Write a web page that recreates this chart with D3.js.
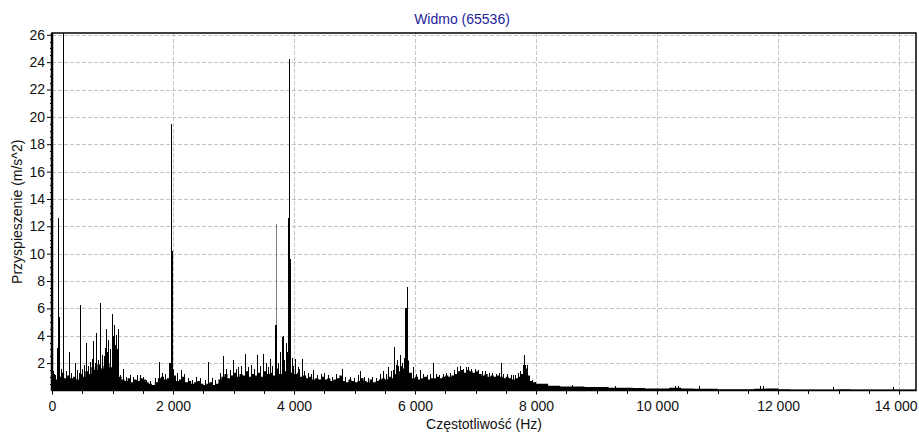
<!DOCTYPE html>
<html>
<head>
<meta charset="utf-8">
<script src="https://cdn.jsdelivr.net/npm/d3@7"></script>
<style>
  html, body { margin: 0; padding: 0; background: #fff; }
  svg { display: block; }
  text { font-family: "Liberation Sans", Arial, sans-serif; }
</style>
</head>
<body>
<svg id="chart" width="919" height="433"></svg>
<script>
// ---------- DATA ----------
const titleText = "Widmo (65536)";
const xLabel = "Częstotliwość (Hz)";
const yLabel = "Przyspieszenie (m/s^2)";

const xTicks = [0, 2000, 4000, 6000, 8000, 10000, 12000, 14000];
const xTickLabels = ["0", "2 000", "4 000", "6 000", "8 000", "10 000", "12 000", "14 000"];
const yTicks = [2, 4, 6, 8, 10, 12, 14, 16, 18, 20, 22, 24, 26];
const yTickLabels = ["2", "4", "6", "8", "10", "12", "14", "16", "18", "20", "22", "24", "26"];

// noise floor (Hz, m/s^2)
const floorFreq = [
  0, 50, 100, 150, 200, 250, 300, 350, 400, 450, 500, 550, 600, 650, 700, 750, 800, 850, 900, 950,
  1000, 1050, 1100, 1150, 1200, 1250, 1300, 1350, 1400, 1450, 1500, 1550, 1600, 1650, 1700, 1750, 1800, 1850, 1900, 1950,
  2000, 2050, 2100, 2150, 2200, 2250, 2300, 2350, 2400, 2450, 2500, 2550, 2600, 2650, 2700, 2750, 2800, 2850, 2900, 2950,
  3000, 3050, 3100, 3150, 3200, 3250, 3300, 3350, 3400, 3450, 3500, 3550, 3600, 3650, 3700, 3750, 3800, 3850, 3900, 3950,
  4000, 4050, 4100, 4150, 4200, 4250, 4300, 4350, 4400, 4450, 4500, 4550, 4600, 4650, 4700, 4750, 4800, 4850, 4900, 4950,
  5000, 5050, 5100, 5150, 5200, 5250, 5300, 5350, 5400, 5450, 5500, 5550, 5600, 5650, 5700, 5750, 5800, 5850, 5900, 5950,
  6000, 6050, 6100, 6150, 6200, 6250, 6300, 6350, 6400, 6450, 6500, 6550, 6600, 6650, 6700, 6750, 6800, 6850, 6900, 6950,
  7000, 7050, 7100, 7150, 7200, 7250, 7300, 7350, 7400, 7450, 7500, 7550, 7600, 7650, 7700, 7750, 7800, 7850, 7900, 7950,
  8000, 8200, 8400, 8600, 8800, 9000, 9200, 9400, 9600, 9800, 10000, 10200, 10400, 10600, 10800, 11000, 11200, 11400,
  11600, 11800, 12000, 12200, 12400, 12600, 12800, 13000, 13200, 13400, 13600, 13800, 14000, 14200, 14280
];
const floorAmp = [
  1.2, 0.8, 1.0, 1.3, 0.9, 1.1, 0.9, 1.0, 0.8, 1.2, 1.0, 1.4, 1.2, 1.7, 1.5, 1.9, 1.6, 1.8, 2.0, 1.7,
  2.6, 2.2, 1.0, 0.8, 0.7, 0.9, 0.6, 0.8, 0.7, 0.9, 0.8, 0.6, 0.5, 0.4, 0.6, 0.9, 1.0, 0.8, 0.9, 1.4,
  1.1, 0.7, 0.8, 1.0, 0.6, 0.7, 0.5, 0.6, 0.7, 0.5, 0.4, 0.5, 0.6, 0.4, 0.5, 0.8, 1.0, 1.2, 0.9, 1.1,
  1.3, 1.0, 1.2, 1.1, 1.4, 1.0, 1.2, 1.1, 1.3, 1.0, 1.4, 1.2, 1.3, 1.1, 1.6, 1.2, 1.5, 1.4, 1.8, 1.3,
  1.2, 1.3, 1.0, 1.1, 0.9, 1.0, 0.8, 0.9, 0.8, 1.0, 0.8, 0.9, 0.7, 0.8, 0.9, 1.1, 0.7, 0.6, 0.8, 0.7,
  0.6, 0.7, 0.9, 0.7, 0.6, 0.8, 0.6, 0.7, 0.8, 0.9, 0.8, 1.0, 0.9, 1.2, 1.4, 1.1, 1.6, 2.2, 1.3, 0.9,
  1.0, 0.8, 0.9, 1.0, 0.8, 0.9, 0.9, 1.0, 0.9, 1.0, 1.1, 1.0, 1.1, 1.2, 1.4, 1.5, 1.3, 1.5, 1.4, 1.3,
  1.4, 1.2, 1.1, 1.2, 1.0, 1.1, 1.0, 1.1, 1.0, 0.9, 1.0, 0.9, 0.8, 0.9, 1.0, 1.2, 1.6, 1.1, 0.7, 0.6,
  0.5, 0.35, 0.3, 0.3, 0.25, 0.25, 0.2, 0.2, 0.18, 0.15, 0.15, 0.2, 0.15, 0.12, 0.12, 0.1, 0.1, 0.1,
  0.12, 0.15, 0.1, 0.08, 0.08, 0.08, 0.08, 0.1, 0.08, 0.08, 0.07, 0.08, 0.08, 0.07, 0.07
];

// individual spectral lines (Hz, m/s^2)
const peakFreq = [
  20, 45, 77, 97, 104, 121, 150, 187, 230, 281, 320, 380, 410, 440, 468, 500, 530, 562, 600, 630,
  656, 683, 705, 727, 760, 799, 830, 854, 880, 898, 915, 931, 960, 986, 1000, 1025, 1040, 1052, 1070, 1085,
  1130, 1179, 1230, 1290, 1340, 1400, 1450, 1500, 1560, 1620, 1700, 1769, 1810, 1870, 1934, 1950, 1967, 1980, 2000, 2060,
  2132, 2180, 2240, 2310, 2380, 2450, 2530, 2584, 2640, 2700, 2770, 2832, 2880, 2940, 2997, 3040, 3080, 3130, 3190, 3240,
  3290, 3340, 3394, 3440, 3493, 3540, 3570, 3603, 3640, 3690, 3697, 3702, 3710, 3740, 3769, 3796, 3813, 3840, 3868, 3890,
  3906, 3915, 3923, 3940, 3960, 3990, 4017, 4060, 4090, 4127, 4170, 4230, 4280, 4320, 4380, 4440, 4500, 4560, 4620, 4700,
  4788, 4850, 4920, 4990, 5050, 5091, 5150, 5220, 5290, 5360, 5420, 5477, 5520, 5559, 5600, 5640, 5658, 5680, 5697, 5720,
  5752, 5775, 5791, 5820, 5840, 5850, 5855, 5863, 5875, 5890, 5920, 5961, 6020, 6083, 6140, 6200, 6250, 6292, 6340, 6400,
  6460, 6520, 6580, 6640, 6700, 6744, 6800, 6850, 6881, 6930, 6992, 7040, 7100, 7160, 7220, 7280, 7340, 7380, 7416, 7460,
  7520, 7580, 7620, 7653, 7700, 7740, 7780, 7795, 7807, 7820, 7846, 7880, 7940, 7990,
  8600, 9300, 10300, 10350, 10700, 11700, 11750, 12900, 13900
];
const peakAmp = [
  1.4, 1.1, 3.1, 12.6, 12.6, 5.4, 1.6, 26.5, 1.4, 2.8, 1.3, 2.0, 1.5, 1.3, 6.25, 1.6, 1.9, 3.45, 1.8, 2.1,
  2.3, 3.6, 2.0, 4.2, 2.2, 6.4, 2.6, 2.5, 3.1, 4.5, 2.8, 3.7, 3.0, 5.6, 4.0, 4.8, 3.3, 4.05, 3.0, 4.5,
  1.1, 1.6, 1.0, 1.1, 1.0, 1.1, 1.15, 1.0, 0.8, 0.7, 0.9, 2.1, 1.3, 1.2, 2.0, 2.0, 19.5, 10.2, 1.6, 1.3,
  1.5, 1.2, 0.9, 0.8, 1.0, 0.9, 0.8, 2.05, 0.9, 0.8, 1.3, 2.5, 1.6, 1.5, 2.2, 1.6, 1.75, 1.8, 2.7, 1.7,
  1.9, 1.6, 2.6, 1.8, 2.7, 2.0, 1.7, 2.3, 1.8, 4.8, 10.0, 12.2, 4.8, 2.0, 2.8, 3.9, 4.0, 2.2, 3.45, 2.8,
  12.6, 12.6, 24.2, 9.6, 2.4, 1.8, 2.3, 1.7, 1.6, 2.3, 1.4, 1.3, 1.2, 1.5, 1.1, 1.2, 1.3, 1.1, 1.0, 1.2,
  1.6, 1.0, 1.0, 0.9, 1.1, 1.4, 1.0, 0.9, 1.0, 0.9, 1.2, 1.4, 1.2, 1.7, 1.4, 1.5, 3.2, 1.9, 2.2, 1.8,
  2.6, 1.8, 2.0, 2.4, 6.0, 6.0, 3.7, 7.55, 3.0, 2.0, 1.3, 1.75, 1.2, 1.5, 1.2, 1.1, 1.2, 2.0, 1.2, 1.1,
  1.2, 1.3, 1.3, 1.5, 1.7, 1.8, 1.6, 1.7, 1.7, 1.6, 1.6, 1.5, 1.4, 1.4, 1.3, 1.3, 1.2, 1.3, 2.0, 1.2,
  1.2, 1.1, 1.1, 1.15, 1.3, 1.4, 1.85, 1.9, 2.6, 1.9, 1.85, 1.0, 0.8, 0.6,
  0.4, 0.3, 0.35, 0.3, 0.3, 0.3, 0.35, 0.25, 0.25
];
// lines drawn lighter (anti-aliased thin line in the original)
const greyPeaks = [3702];

// ---------- LAYOUT ----------
const svg = d3.select("#chart");
const L = 52, R = 916, T = 33, B = 390.5;
const x = d3.scaleLinear().domain([0, 14280]).range([L, R]);
const y = d3.scaleLinear().domain([0, 26.13]).range([B, T]);

// clip
svg.append("defs").append("clipPath").attr("id", "clip")
  .append("rect").attr("x", L).attr("y", T).attr("width", R - L).attr("height", B - T);

// grid
const grid = svg.append("g").attr("stroke", "#c4c4c4").attr("stroke-width", 1)
  .attr("stroke-dasharray", "4,2").attr("shape-rendering", "crispEdges");
grid.selectAll("line.h").data(yTicks).join("line")
  .attr("x1", L).attr("x2", R)
  .attr("y1", d => Math.round(y(d)) + 0.5).attr("y2", d => Math.round(y(d)) + 0.5);
grid.selectAll("line.v").data(xTicks.filter(d => d > 0)).join("line")
  .attr("y1", T).attr("y2", B)
  .attr("x1", d => Math.round(x(d)) + 0.5).attr("x2", d => Math.round(x(d)) + 0.5);

// data
const dataG = svg.append("g").attr("clip-path", "url(#clip)");
const floorData = floorFreq.map((f, i) => ({ f, a: floorAmp[i] }));
const area = d3.area().curve(d3.curveStepAfter)
  .x(d => x(d.f)).y0(y(0)).y1(d => y(d.a));
dataG.append("path").datum(floorData).attr("d", area).attr("fill", "#000");

const peaks = peakFreq.map((f, i) => ({ f, a: peakAmp[i] }));
dataG.selectAll("line.pk").data(peaks).join("line")
  .attr("shape-rendering", "crispEdges")
  .attr("x1", d => Math.round(x(d.f)) + 0.5).attr("x2", d => Math.round(x(d.f)) + 0.5)
  .attr("y1", y(0)).attr("y2", d => y(d.a))
  .attr("stroke", d => greyPeaks.includes(d.f) ? "#808080" : "#000")
  .attr("stroke-width", 1);

// frame
svg.append("rect").attr("x", L).attr("y", T).attr("width", R - L).attr("height", B - T)
  .attr("fill", "none").attr("stroke", "#000").attr("stroke-width", 1.5);
svg.append("line").attr("x1", L).attr("x2", L).attr("y1", T).attr("y2", B)
  .attr("stroke", "#000").attr("stroke-width", 2.5);

// y axis ticks
const yAxis = d3.axisLeft(y).tickValues(yTicks).tickSize(5).tickPadding(2)
  .tickFormat((d, i) => yTickLabels[i]);
const yg = svg.append("g").attr("transform", `translate(${L},0)`).call(yAxis);
yg.select(".domain").remove();
yg.selectAll("text").attr("font-size", 14).attr("fill", "#111")
  .attr("font-family", "Liberation Sans, Arial, sans-serif");
// y minor ticks
const yMinor = d3.range(1, 53).map(k => k * 0.5).filter(v => v % 2 !== 0);
svg.append("g").selectAll("line").data(yMinor).join("line")
  .attr("x1", L - 2).attr("x2", L)
  .attr("y1", d => Math.round(y(d)) + 0.5).attr("y2", d => Math.round(y(d)) + 0.5)
  .attr("stroke", "#000").attr("shape-rendering", "crispEdges");

// x axis ticks
const xAxis = d3.axisBottom(x).tickValues(xTicks).tickSize(4).tickPadding(7)
  .tickFormat((d, i) => xTickLabels[i]);
const xg = svg.append("g").attr("transform", `translate(0,${B})`).call(xAxis);
xg.select(".domain").remove();
xg.selectAll("text").attr("font-size", 14).attr("fill", "#111")
  .attr("font-family", "Liberation Sans, Arial, sans-serif");
// last label kept inside the picture, right-aligned to the frame edge
xg.selectAll(".tick").filter(d => d === xTicks[xTicks.length - 1]).select("text")
  .attr("text-anchor", "end").attr("x", R + 1 - x(xTicks[xTicks.length - 1]));
const xMinor = d3.range(500, 14280, 500).filter(v => v % 2000 !== 0);
svg.append("g").selectAll("line").data(xMinor).join("line")
  .attr("y1", B).attr("y2", B + 3)
  .attr("x1", d => Math.round(x(d)) + 0.5).attr("x2", d => Math.round(x(d)) + 0.5)
  .attr("stroke", "#000").attr("shape-rendering", "crispEdges");

// titles
svg.append("text").attr("x", (L + R) / 2 - 22).attr("y", 24).attr("text-anchor", "middle")
  .attr("font-size", 14).attr("fill", "#1e1e9a").text(titleText);
svg.append("text").attr("x", (L + R) / 2).attr("y", 429).attr("text-anchor", "middle")
  .attr("font-size", 14).attr("fill", "#111").text(xLabel);
svg.append("text").attr("transform", `translate(21.5,${(T + B) / 2}) rotate(-90)`)
  .attr("text-anchor", "middle").attr("font-size", 14).attr("fill", "#111").text(yLabel);
</script>
</body>
</html>
